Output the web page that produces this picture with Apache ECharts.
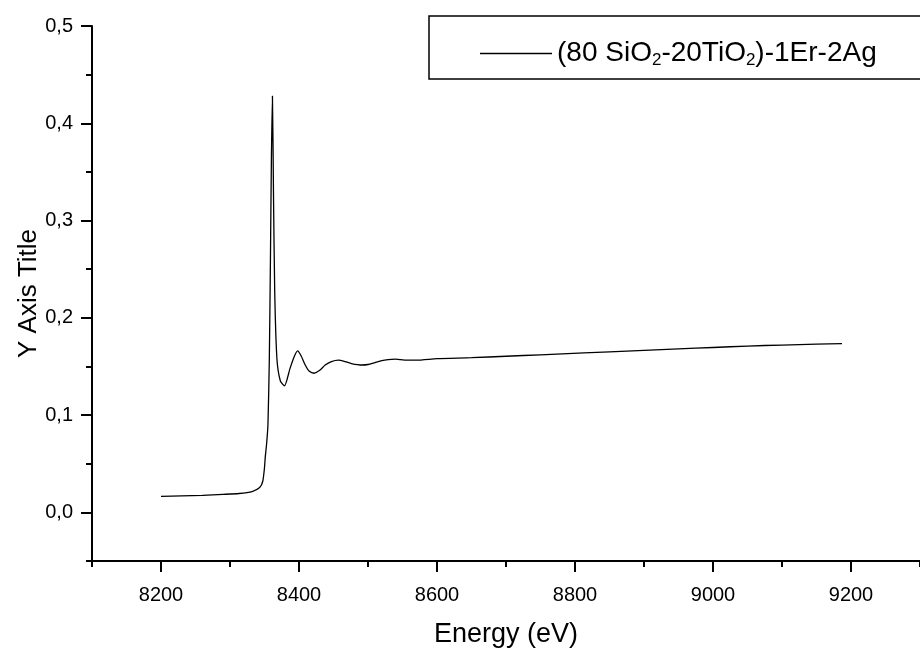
<!DOCTYPE html>
<html>
<head>
<meta charset="utf-8">
<script src="https://cdn.jsdelivr.net/npm/echarts@6/dist/echarts.min.js"></script>
<style>
html,body{margin:0;padding:0;background:#fff;}
#chart{width:920px;height:653px;}
</style>
</head>
<body>
<div id="chart"></div>
<script>
// Data
const energy = [8200, 8230, 8260, 8290, 8313, 8332, 8343, 8347.5, 8350, 8351, 8353, 8355, 8357, 8358.6, 8360, 8361.5, 8363, 8364.8, 8368, 8373, 8379, 8387, 8393, 8398, 8403, 8409, 8415, 8422, 8430, 8438, 8447, 8457, 8467, 8476, 8491, 8500, 8510, 8520, 8529, 8540, 8553, 8570, 8600, 8650, 8700, 8750, 8813, 8850, 8900, 8950, 9000, 9050, 9100, 9150, 9187];
const absorb = [0.0165, 0.0170, 0.0175, 0.0185, 0.0194, 0.0214, 0.0255, 0.032, 0.046, 0.056, 0.070, 0.090, 0.158, 0.26, 0.363, 0.428, 0.329, 0.227, 0.158, 0.135, 0.130, 0.148, 0.160, 0.166, 0.161, 0.1515, 0.145, 0.143, 0.146, 0.1515, 0.155, 0.1565, 0.155, 0.153, 0.1515, 0.152, 0.154, 0.156, 0.157, 0.1575, 0.1565, 0.1565, 0.158, 0.159, 0.1605, 0.162, 0.164, 0.165, 0.1665, 0.168, 0.1695, 0.171, 0.172, 0.173, 0.1735];
const xMajor = [8200, 8400, 8600, 8800, 9000, 9200];
const xMinor = [8100, 8300, 8500, 8700, 8900, 9100, 9300];
const yMajor = [0.0, 0.1, 0.2, 0.3, 0.4, 0.5];
const yMinor = [-0.05, 0.05, 0.15, 0.25, 0.35, 0.45];
const seriesName = '(80 SiO2-20TiO2)-1Er-2Ag';
const xTitle = 'Energy (eV)';
const yTitle = 'Y Axis Title';

const FONT = 'Liberation Sans, Arial, sans-serif';
const chart = echarts.init(document.getElementById('chart'), null, {renderer: 'canvas'});
const axisLine = {show: true, onZero: false, lineStyle: {color: '#000', width: 2}};
const tickStyle = {color: '#000', width: 2};

const option = {
  backgroundColor: '#fff',
  animation: false,
  grid: {left: 92, top: 26, width: 832, height: 539, containLabel: false},
  legend: {
    left: 429, top: 16,
    padding: [22, 70, 10, 51],
    borderColor: '#000', borderWidth: 1.5,
    itemWidth: 72, itemHeight: 1.4,
    icon: 'rect',
    formatter: function () { return '{a|(80 SiO}{s|2}{a|-20TiO}{s|2}{a|)-1Er-2Ag}'; },
    textStyle: {
      fontFamily: FONT, color: '#000', fontSize: 28,
      rich: {
        a: {fontFamily: FONT, fontSize: 28, color: '#000', lineHeight: 32},
        s: {fontFamily: FONT, fontSize: 17, color: '#000', lineHeight: 32, padding: [14, 0, 0, 0]}
      }
    },
    data: [{name: seriesName}]
  },
  xAxis: [
    {
      type: 'value', min: 8100, max: 9300, position: 'bottom',
      axisLine: axisLine,
      axisTick: {show: true, inside: false, length: 11, customValues: xMajor, lineStyle: tickStyle},
      axisLabel: {show: true, customValues: xMajor, fontFamily: FONT, fontSize: 20, color: '#000', margin: 24,
        formatter: function (v) { return String(v); }},
      splitLine: {show: false},
      name: xTitle, nameLocation: 'middle', nameGap: 60, nameMoveOverlap: false,
      nameTextStyle: {fontFamily: FONT, fontSize: 27, color: '#000'}
    },
    {
      type: 'value', min: 8100, max: 9300, position: 'bottom',
      axisLine: {show: false, onZero: false},
      axisTick: {show: true, inside: false, length: 6, customValues: xMinor, lineStyle: tickStyle},
      axisLabel: {show: false},
      splitLine: {show: false}
    }
  ],
  yAxis: [
    {
      type: 'value', min: -0.05, max: 0.5, position: 'left',
      axisLine: axisLine,
      axisTick: {show: true, inside: false, length: 11, customValues: yMajor, lineStyle: tickStyle},
      axisLabel: {
        show: true, customValues: yMajor, fontFamily: FONT, fontSize: 20, color: '#000', margin: 19,
        formatter: function (v) { return v.toFixed(1).replace('.', ','); }
      },
      splitLine: {show: false},
      name: yTitle, nameLocation: 'middle', nameGap: 50, nameRotate: 90, nameMoveOverlap: false,
      nameTextStyle: {fontFamily: FONT, fontSize: 26, color: '#000'}
    },
    {
      type: 'value', min: -0.05, max: 0.5, position: 'left',
      axisLine: {show: false, onZero: false},
      axisTick: {show: true, inside: false, length: 6, customValues: yMinor, lineStyle: tickStyle},
      axisLabel: {show: false},
      splitLine: {show: false}
    }
  ],
  series: [{
    name: seriesName,
    type: 'line',
    xAxisIndex: 0, yAxisIndex: 0,
    data: energy.map((e, i) => [e, absorb[i]]),
    showSymbol: false, symbol: 'none',
    smooth: 0.2,
    lineStyle: {color: '#000', width: 1.3},
    itemStyle: {color: '#000'}
  }]
};
chart.setOption(option);
</script>
</body>
</html>
